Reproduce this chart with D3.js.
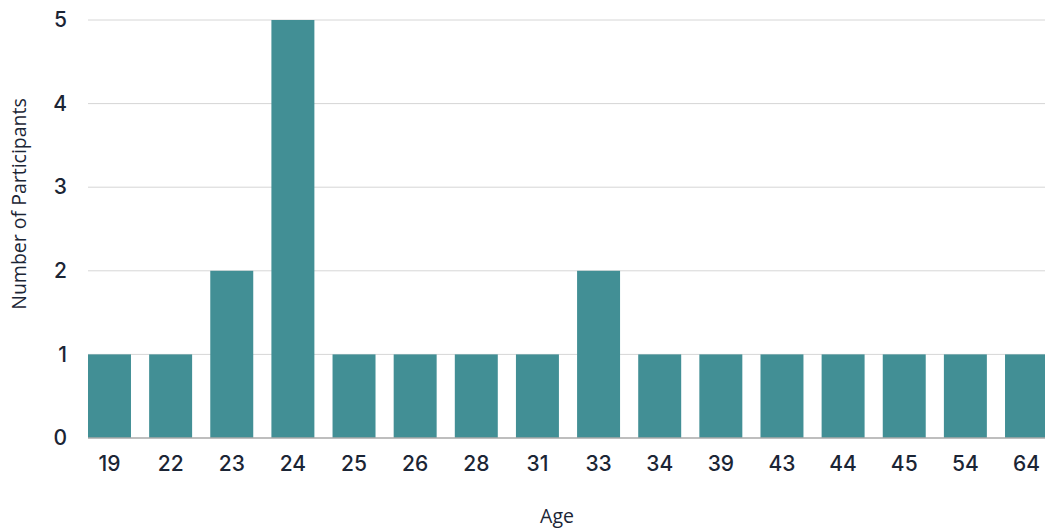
<!DOCTYPE html>
<html>
<head>
<meta charset="utf-8">
<script src="https://cdn.jsdelivr.net/npm/d3@7"></script>
<style>
  html, body { margin: 0; padding: 0; background: #fff; }
  svg { display: block; }
</style>
</head>
<body>
<svg id="chart" width="1045" height="531"></svg>
<script>
// Participant counts by age
const ages = ["19", "22", "23", "24", "25", "26", "28", "31", "33", "34", "39", "43", "44", "45", "54", "64"];
const counts = [1, 1, 2, 5, 1, 1, 1, 1, 2, 1, 1, 1, 1, 1, 1, 1];
const yTicks = [0, 1, 2, 3, 4, 5];

const svg = d3.select("#chart");
const chartWidth = 1045;
const plotLeft = 88, plotTop = 20, plotBottom = 438;
const textColor = "#1b2535";
const barColor = "#428f95";
const tickFont = "Inter, 'Noto Sans', sans-serif";

const x = d3.scaleBand()
  .domain(ages)
  .range([plotLeft, 1048])
  .paddingInner(0.297)
  .paddingOuter(0);

const y = d3.scaleLinear()
  .domain([0, 5])
  .range([plotBottom, plotTop]);

// horizontal gridlines
svg.append("g")
  .selectAll("line")
  .data(yTicks.filter(d => d > 0))
  .join("line")
  .attr("x1", plotLeft)
  .attr("x2", chartWidth)
  .attr("y1", d => y(d))
  .attr("y2", d => y(d))
  .attr("stroke", "#d6d6d6")
  .attr("stroke-width", 1);

// bars
svg.append("g")
  .selectAll("rect")
  .data(ages.map((a, i) => ({ age: a, n: counts[i] })))
  .join("rect")
  .attr("x", d => x(d.age))
  .attr("y", d => y(d.n))
  .attr("width", x.bandwidth())
  .attr("height", d => y(0) - y(d.n))
  .attr("fill", barColor);

// baseline
svg.append("line")
  .attr("x1", plotLeft)
  .attr("x2", chartWidth)
  .attr("y1", y(0))
  .attr("y2", y(0))
  .attr("stroke", "#a9a9a9")
  .attr("stroke-width", 1.5);

// y axis labels
const yAxis = svg.append("g")
  .attr("transform", `translate(${plotLeft - 21},0)`)
  .call(d3.axisLeft(y).tickValues(yTicks).tickFormat(d3.format("d")).tickSize(0).tickPadding(0));
yAxis.select(".domain").remove();
yAxis.selectAll("text")
  .attr("font-family", tickFont)
  .attr("font-size", 21)
  .attr("font-weight", 500)
  .attr("fill", textColor);

// x axis labels
const xAxis = svg.append("g")
  .attr("transform", `translate(0,${plotBottom + 18})`)
  .call(d3.axisBottom(x).tickSize(0).tickPadding(0));
xAxis.select(".domain").remove();
xAxis.selectAll("text")
  .attr("font-family", tickFont)
  .attr("font-size", 21)
  .attr("font-weight", 500)
  .attr("fill", textColor);

// axis titles
svg.append("text")
  .attr("x", 557)
  .attr("y", 523)
  .attr("text-anchor", "middle")
  .attr("font-family", "'Open Sans', sans-serif")
  .attr("font-size", 19.5)
  .attr("fill", textColor)
  .text("Age");

svg.append("text")
  .attr("transform", `translate(26,204) rotate(-90)`)
  .attr("text-anchor", "middle")
  .attr("font-family", "'Open Sans', sans-serif")
  .attr("font-size", 19.5)
  .attr("fill", textColor)
  .text("Number of Participants");
</script>
</body>
</html>
